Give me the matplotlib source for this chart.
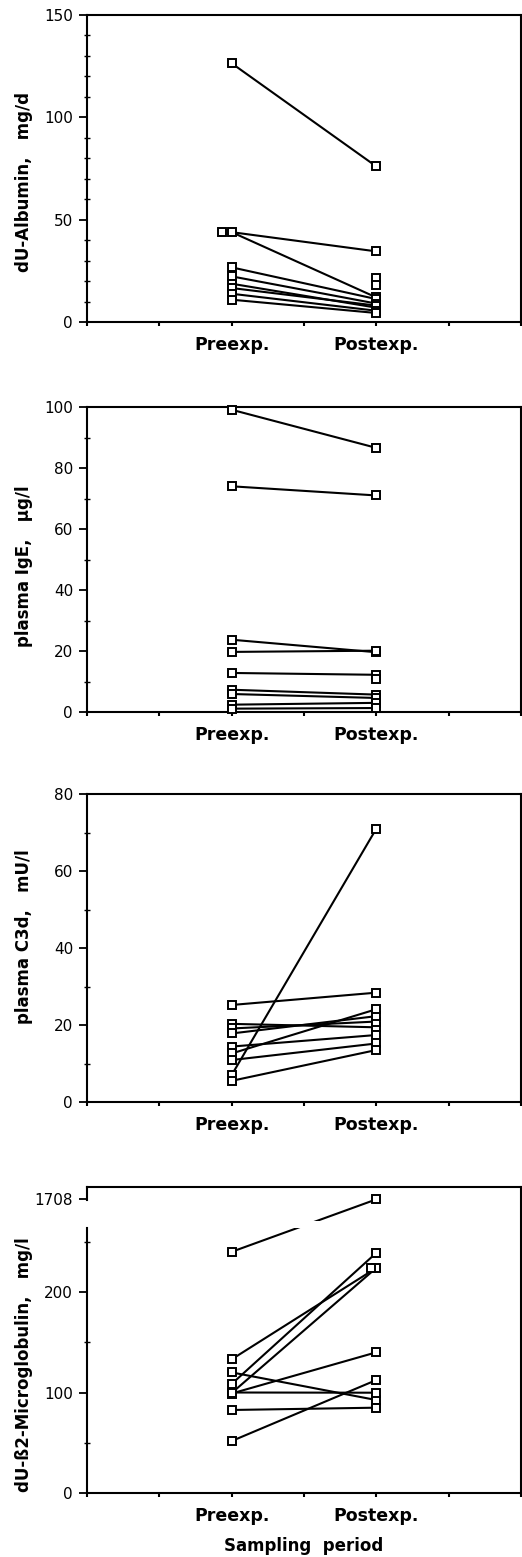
import numpy as np
import matplotlib.pyplot as plt
from matplotlib.ticker import MultipleLocator, FixedLocator

nan = np.nan

# period categories on the x axis
periods = ["Preexp.", "Postexp."]
PRE_X, POST_X = 2, 4

# dU-Albumin, mg/d  (one entry per subject, nan = no value)
alb_pre = [126.4, 43.9, 43.9, 26.7, 22.3, 18.7, 16.6, 13.8, 10.9, nan, nan]
alb_post = [76.0, 34.5, 12.0, 11.2, 9.0, 7.0, 8.0, 5.5, 4.4, 21.5, 18.2]

# plasma IgE, ug/l
ige_pre = [99.1, 74.0, 23.7, 19.7, 12.8, 7.3, 5.9, 2.4, 1.1, nan]
ige_post = [86.6, 71.0, 19.6, 20.1, 12.2, 5.7, 4.6, 3.0, 1.3, 10.8]

# plasma C3d, mU/l
c3d_pre = [25.2, 20.3, 19.1, 17.8, 14.4, 12.6, 10.9, 7.0, 5.5]
c3d_post = [28.4, 19.4, 20.9, 22.3, 17.4, 24.1, 15.2, 71.0, 13.5]

# dU-B2-Microglobulin, mg/l
b2m_pre = [240, 133, 108.5, 99.5, 99, 120, 100, 82.6, 51.7]
b2m_post = [1708, 224, 239, 224, 140, 92.5, 99.8, 84.9, 112.4]

plt.rcParams['font.family'] = ['DejaVu Sans']
plt.rcParams['font.size'] = 11

fig = plt.figure(figsize=(5.22, 15.57), dpi=100)

L, W = 87 / 522, 434 / 522
boxes = [(15, 322), (407, 712), (794, 1102), (1187, 1493)]
axes = [fig.add_axes([L, (1557 - b) / 1557, W, (b - t) / 1557]) for t, b in boxes]


def draw_panel(ax, pre, post, pre_nudge=None, post_nudge=None):
    pre = np.asarray(pre, float)
    post = np.asarray(post, float)
    for a, b in zip(pre, post):
        if np.isfinite(a) and np.isfinite(b):
            ax.plot([PRE_X, POST_X], [a, b], color='black', lw=1.5, zorder=2)
    mk = dict(marker='s', ms=6, mfc='white', mec='black', mew=1.4,
              ls='none', zorder=3, clip_on=False)
    xs_pre = np.full(len(pre), PRE_X, float)
    xs_post = np.full(len(post), POST_X, float)
    for i, d in (pre_nudge or {}).items():
        xs_pre[i] += d
    for i, d in (post_nudge or {}).items():
        xs_post[i] += d
    ax.plot(xs_pre, pre, **mk)
    ax.plot(xs_post, post, **mk)


def style(ax, ylabel, label_y):
    ax.set_xlim(0, 6)
    ax.set_xticks(range(7))
    ax.set_xticklabels(['', '', periods[0], '', periods[1], '', ''],
                       fontweight='bold', fontsize=12.5)
    for s in ax.spines.values():
        s.set_linewidth(1.5)
    ax.tick_params(axis='x', direction='out', length=3, width=1.5, pad=7)
    ax.tick_params(axis='y', which='major', direction='out', length=6,
                   width=1.3, pad=4, labelsize=11)
    ax.tick_params(axis='y', which='minor', direction='inout', length=4,
                   width=1.0)
    ax.set_ylabel(ylabel, fontweight='bold', fontsize=12)
    ax.yaxis.set_label_coords(-0.124, label_y)


# panel 1
ax = axes[0]
draw_panel(ax, alb_pre, alb_post, pre_nudge={2: -0.14})
ax.set_ylim(0, 150)
ax.yaxis.set_major_locator(MultipleLocator(50))
ax.yaxis.set_minor_locator(MultipleLocator(10))
style(ax, "dU-Albumin,   mg/d", 0.456)

# panel 2
ax = axes[1]
draw_panel(ax, ige_pre, ige_post)
ax.set_ylim(0, 100)
ax.yaxis.set_major_locator(MultipleLocator(20))
ax.yaxis.set_minor_locator(MultipleLocator(10))
style(ax, "plasma IgE,   µg/l", 0.479)

# panel 3
ax = axes[2]
draw_panel(ax, c3d_pre, c3d_post)
ax.set_ylim(0, 80)
ax.yaxis.set_major_locator(MultipleLocator(20))
ax.yaxis.set_minor_locator(MultipleLocator(10))
style(ax, "plasma C3d,   mU/l", 0.536)

# panel 4: broken y axis, upper part compressed
B = 265.0
K = 27.2 / (1708 - B)


def fwd(v):
    v = np.asarray(v, float)
    return np.where(v <= B, v, B + (v - B) * K)


def inv(y):
    y = np.asarray(y, float)
    return np.where(y <= B, y, B + (y - B) / K)


ax = axes[3]
ax.set_yscale('function', functions=(fwd, inv))
draw_panel(ax, b2m_pre, b2m_post, post_nudge={3: -0.08})
ax.set_ylim(0, 2360)
ax.yaxis.set_major_locator(FixedLocator([0, 100, 200, 1708]))
ax.yaxis.set_minor_locator(FixedLocator([50, 150, 250]))
ax.set_yticklabels(['0', '100', '200', '1708'])
style(ax, "dU-ß2-Microglobulin,   mg/l", 0.42)
ax.spines['left'].set_bounds(0, 264)
ax.plot([0, 0], [1650, 2360], color='black', lw=1.5,
        transform=ax.get_yaxis_transform(), clip_on=False, zorder=4)
# gap in the connecting line across the break
ax.axhspan(264, 560, xmin=0.4, xmax=0.6, color='white', lw=0, zorder=2.5)
ax.set_xlabel("Sampling  period", fontweight='bold', fontsize=12, labelpad=9)

fig.savefig("out.png", dpi=100)
